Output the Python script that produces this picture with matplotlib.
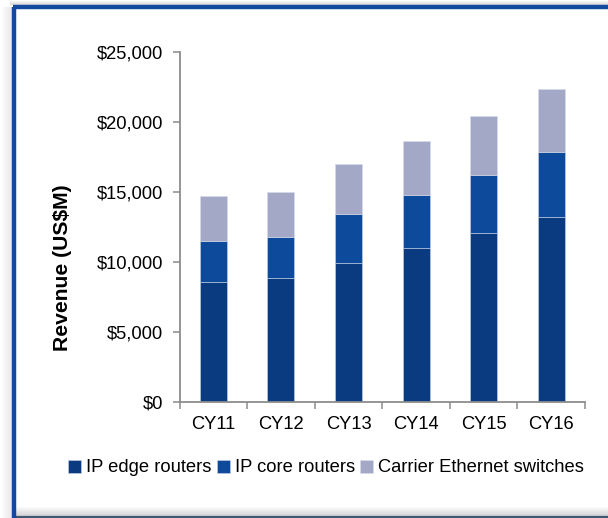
import matplotlib
matplotlib.use("Agg")
import matplotlib.pyplot as plt
from matplotlib.lines import Line2D
import numpy as np

plt.rcParams['font.family'] = ['Liberation Sans', 'DejaVu Sans']

categories = ["CY11", "CY12", "CY13", "CY14", "CY15", "CY16"]
edge_routers = [8550, 8830, 9930, 10980, 12080, 13230]
core_routers = [2930, 2990, 3470, 3780, 4160, 4610]
ethernet_switches = [3270, 3150, 3630, 3910, 4220, 4560]
series_names = ["IP edge routers", "IP core routers", "Carrier Ethernet switches"]
colors = ["#0A3A80", "#0D4A9C", "#A2A8C6"]
yticks = [0, 5000, 10000, 15000, 20000, 25000]
ytick_labels = ["$0", "$5,000", "$10,000", "$15,000", "$20,000", "$25,000"]

W, H = 608, 518
fig = plt.figure(figsize=(W / 100, H / 100), dpi=100)
fig.patch.set_facecolor("white")

# frame shadow (left and top)
for i in range(10):
    a = 0.04 + 0.03 * i
    xx = 2 + i
    fig.add_artist(Line2D([xx / W, xx / W], [0, 1 - 6.5 / H], color="gray", alpha=a * 0.5, lw=0.8))
for i in range(4):
    y = 1 + i
    fig.add_artist(Line2D([10 / W, 1], [1 - y / H, 1 - y / H], color="gray", alpha=0.08 + 0.06 * i, lw=0.8))
# bottom inner gradient
for i in range(9):
    y = 507 + i
    fig.add_artist(Line2D([16 / W, 1], [1 - y / H, 1 - y / H], color="gray", alpha=0.03 + 0.035 * i, lw=0.8))
fig.add_artist(Line2D([16 / W, 1], [1 - 517 / H, 1 - 517 / H], color="#3E5873", lw=1.6))
# blue border
fig.add_artist(Line2D([14 / W, 14 / W], [0, 1 - 7 / H], color="#114A9E", lw=3.2, solid_capstyle="butt"))
fig.add_artist(Line2D([12.5 / W, 1], [1 - 7 / H, 1 - 7 / H], color="#114A9E", lw=3.2, solid_capstyle="butt"))

left, right = 179.5 / W, 585 / W
bottom, top = 1 - 401.7 / H, 1 - 52.3 / H
ax = fig.add_axes([left, bottom, right - left, top - bottom])

x = np.arange(len(categories))
bw = 0.4
b1 = ax.bar(x, edge_routers, bw, color=colors[0], edgecolor="#c9d3e6", linewidth=0.4, label=series_names[0])
b2 = ax.bar(x, core_routers, bw, bottom=edge_routers, color=colors[1], edgecolor="#c9d3e6", linewidth=0.4, label=series_names[1])
base2 = np.array(edge_routers) + np.array(core_routers)
b3 = ax.bar(x, ethernet_switches, bw, bottom=base2, color=colors[2], edgecolor="#d6dbea", linewidth=0.4, label=series_names[2])

fs = 13.2
ax.set_xlim(-0.5, len(categories) - 0.5)
ax.set_ylim(0, 25000)
ax.set_yticks(yticks)
ax.set_yticklabels(ytick_labels, fontsize=fs)
ax.set_xticks(np.arange(-0.5, len(categories), 1.0))
ax.set_xticklabels([])
ax.set_xticks(x, minor=True)
ax.set_xticklabels(categories, minor=True, fontsize=fs)
ax.tick_params(axis="x", which="minor", length=0, pad=10)
ax.tick_params(axis="x", which="major", length=5, width=1.1, color="#8c8c8c", direction="out")
ax.tick_params(axis="y", length=5, width=1.1, color="#8c8c8c", direction="out", pad=7)
for s in ["top", "right"]:
    ax.spines[s].set_visible(False)
for s in ["left", "bottom"]:
    ax.spines[s].set_color("#8c8c8c")
    ax.spines[s].set_linewidth(1.3)

fig.text(63 / W, 1 - 268 / H, "Revenue (US$M)", rotation=90, fontsize=15.2, fontweight="bold",
         ha="center", va="center")

fig.legend(handles=[b1, b2, b3], labels=series_names, loc="center",
           bbox_to_anchor=(326 / W, 1 - 468 / H), ncol=3, frameon=False, fontsize=fs,
           handlelength=0.72, handleheight=0.72, handletextpad=0.25, columnspacing=0.3,
           borderaxespad=0)

fig.savefig("out.png", dpi=100, facecolor="white")
